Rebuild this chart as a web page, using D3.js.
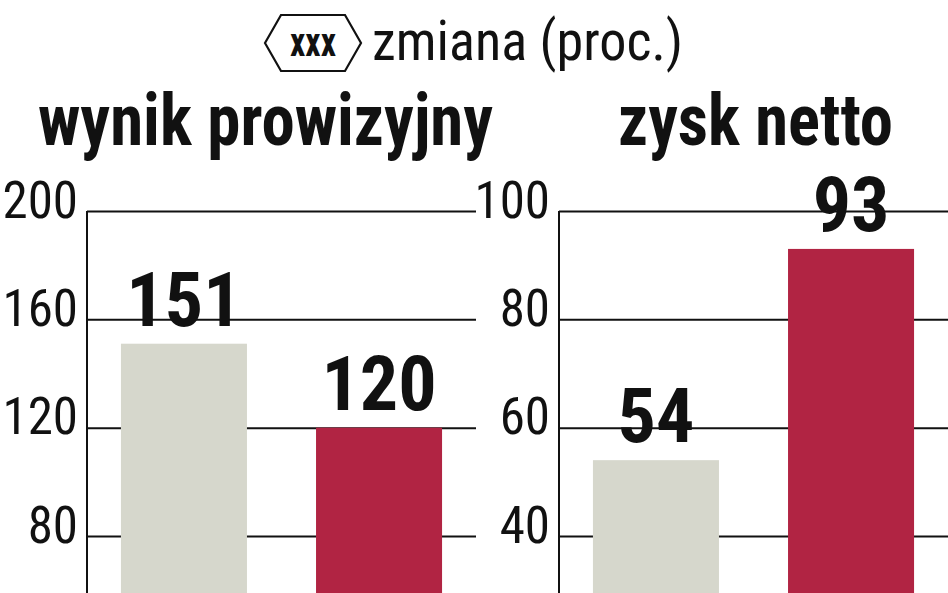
<!DOCTYPE html>
<html>
<head>
<meta charset="utf-8">
<script src="https://cdn.jsdelivr.net/npm/d3@7"></script>
<style>
  html, body { margin: 0; padding: 0; background: #fff; }
  svg { display: block; }
  text { font-family: "Liberation Sans Narrow", "Roboto Condensed", "DejaVu Sans Condensed", "Liberation Sans", sans-serif; }
</style>
</head>
<body>
<svg id="chart" width="948" height="593"></svg>
<script>
// ---- data ----
const periods = ["okres poprzedni", "okres bieżący"];
const panelTitles = ["wynik prowizyjny", "zysk netto"];
const commissionValues = [151, 120];
const profitValues = [54, 93];
const commissionTicks = [80, 120, 160, 200];
const profitTicks = [40, 60, 80, 100];
const legendLabel = "zmiana (proc.)";
const legendBadge = "xxx";
const barColors = ["#d6d7cc", "#b12443"];

const svg = d3.select("#chart");
const W = 948, H = 593;
svg.append("rect").attr("width", W).attr("height", H).attr("fill", "#fff");

// ---- legend ----
const lg = svg.append("g");
const hx0 = 265, hx1 = 281, hx2 = 345, hx3 = 361, hy0 = 15, hy1 = 71, hym = 43;
lg.append("path")
  .attr("d", `M${hx0},${hym} L${hx1},${hy0} L${hx2},${hy0} L${hx3},${hym} L${hx2},${hy1} L${hx1},${hy1} Z`)
  .attr("fill", "none").attr("stroke", "#111").attr("stroke-width", 2.2);
lg.append("text").attr("x", 313).attr("y", 56).attr("text-anchor", "middle")
  .attr("font-size", 40).attr("font-weight", "bold").attr("fill", "#111")
  .attr("textLength", 46).attr("lengthAdjust", "spacingAndGlyphs")
  .text(legendBadge);
lg.append("text").attr("x", 372).attr("y", 60)
  .attr("font-size", 56).attr("fill", "#111")
  .attr("textLength", 311).attr("lengthAdjust", "spacingAndGlyphs")
  .text(legendLabel);

// ---- panels ----
const panels = [
  { title: panelTitles[0], values: commissionValues, ticks: commissionTicks, domain: [56, 200],
    x0: 87, titleX: 38, titleW: 455 },
  { title: panelTitles[1], values: profitValues, ticks: profitTicks, domain: [28, 100],
    x0: 559, titleX: 618, titleW: 275 }
];
const panelW = 389;
const yTop = 211, yBottom = 601;

panels.forEach(p => {
  const g = svg.append("g");
  const x = d3.scaleBand().domain(periods).range([p.x0, p.x0 + panelW])
    .paddingInner(0.354).paddingOuter(0.174);
  const y = d3.scaleLinear().domain(p.domain).range([yBottom, yTop]);

  // title
  g.append("text").attr("x", p.titleX).attr("y", 145)
    .attr("font-size", 72).attr("font-weight", "bold").attr("fill", "#111")
    .attr("textLength", p.titleW).attr("lengthAdjust", "spacingAndGlyphs")
    .text(p.title);

  // gridlines + tick labels
  const axis = d3.axisLeft(y).tickValues(p.ticks).tickSize(-panelW).tickPadding(9)
    .tickFormat(d3.format("d"));
  const ag = g.append("g").attr("transform", `translate(${p.x0},0)`).call(axis);
  ag.select(".domain").remove();
  ag.selectAll(".tick line").attr("stroke", "#111").attr("stroke-width", 2);
  ag.selectAll(".tick text").attr("font-size", 51).attr("fill", "#111")
    .attr("dy", "0.12em")
    .style("font-family", '"Liberation Sans Narrow", "Roboto Condensed", "DejaVu Sans Condensed", sans-serif');

  // bars
  g.selectAll("rect.bar").data(p.values).join("rect").attr("class", "bar")
    .attr("x", (d, i) => x(periods[i]))
    .attr("width", x.bandwidth())
    .attr("y", d => y(d))
    .attr("height", d => y(p.domain[0]) - y(d))
    .attr("fill", (d, i) => barColors[i]);

  // vertical axis line
  g.append("line").attr("x1", p.x0).attr("x2", p.x0)
    .attr("y1", y(p.domain[1])).attr("y2", y(p.domain[0]))
    .attr("stroke", "#111").attr("stroke-width", 2);

  // value labels
  g.selectAll("text.val").data(p.values).join("text").attr("class", "val")
    .attr("x", (d, i) => x(periods[i]) + x.bandwidth() / 2)
    .attr("y", d => y(d) - 18)
    .attr("text-anchor", "middle")
    .attr("font-size", 76).attr("font-weight", "bold").attr("fill", "#111")
    .text(d => d);
});
</script>
</body>
</html>
